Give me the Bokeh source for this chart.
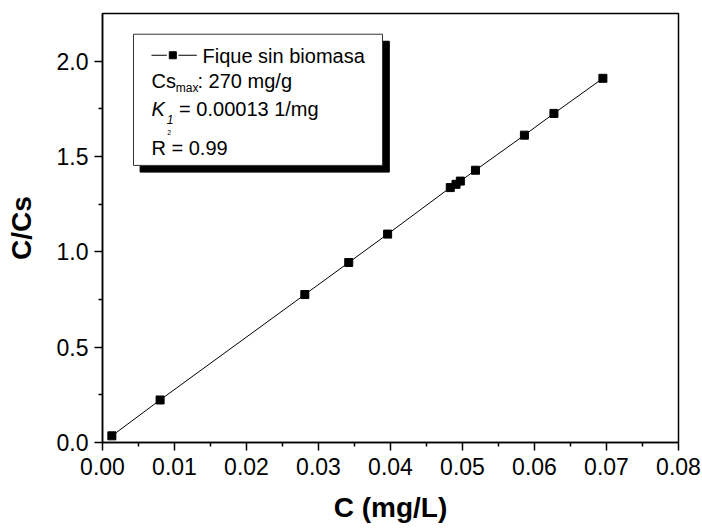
from bokeh.plotting import figure
from bokeh.models import Range1d, LinearAxis, FixedTicker, NumeralTickFormatter
from bokeh.core.properties import value
from bokeh.embed import file_html
from bokeh.resources import INLINE

# ---- data ----
C = [0.0013, 0.0080, 0.0281, 0.0342, 0.0396, 0.0483, 0.0491, 0.0497, 0.0518, 0.0586, 0.0627, 0.0695]
C_Cs = [0.035, 0.223, 0.776, 0.944, 1.093, 1.337, 1.354, 1.371, 1.428, 1.612, 1.726, 1.910]

x_major = [0.00, 0.01, 0.02, 0.03, 0.04, 0.05, 0.06, 0.07, 0.08]
x_minor = [0.005, 0.015, 0.025, 0.035, 0.045, 0.055, 0.065, 0.075]
y_major = [0.0, 0.5, 1.0, 1.5, 2.0]
y_minor = [0.25, 0.75, 1.25, 1.75]

x_title = "C (mg/L)"
y_title = "C/Cs"
series_name = "Fique sin biomasa"
stat_cs = ["Cs", "max", ": 270 mg/g"]
stat_k = ["K", "1", "= 0.00013 1/mg"]
stat_r = ["R", "2", "= 0.99"]

X_MAX = 0.08
Y_MAX = 2.25

FONT = "Liberation Sans"

p = figure(width=702, height=529, output_backend="svg", toolbar_location=None,
           x_range=Range1d(0, X_MAX), y_range=Range1d(0, Y_MAX),
           x_axis_type=None, y_axis_type=None,
           min_border_left=102, min_border_right=24, min_border_top=13, min_border_bottom=87)
p.outline_line_color = "black"
p.outline_line_width = 1.5
p.background_fill_color = "white"
p.border_fill_color = "white"


def style_axis(ax):
    ax.axis_line_width = 1.5
    ax.axis_line_color = "black"
    ax.major_tick_line_width = 1.5
    ax.minor_tick_line_width = 1.5
    ax.major_tick_line_color = "black"
    ax.minor_tick_line_color = "black"
    ax.major_label_text_font = FONT
    ax.major_label_text_font_size = "23px"
    ax.major_label_text_color = "black"
    ax.axis_label_text_font = FONT
    ax.axis_label_text_font_size = "28px"
    ax.axis_label_text_font_style = "bold"
    ax.axis_label_text_color = "black"
    ax.major_tick_out = 8
    ax.major_tick_in = 0
    ax.minor_tick_out = 4
    ax.minor_tick_in = 0


xt = FixedTicker(ticks=x_major, minor_ticks=x_minor)
yt = FixedTicker(ticks=y_major, minor_ticks=y_minor)

xb = LinearAxis(ticker=xt, formatter=NumeralTickFormatter(format="0.00"), axis_label=x_title)
style_axis(xb)
xb.major_label_standoff = 7
xb.axis_label_standoff = 14
p.add_layout(xb, "below")

yl = LinearAxis(ticker=yt, formatter=NumeralTickFormatter(format="0.0"), axis_label=y_title)
style_axis(yl)
yl.major_label_standoff = 6
yl.axis_label_standoff = 17
p.add_layout(yl, "left")

# ---- data series ----
p.line(C, C_Cs, line_color="black", line_width=1)
p.scatter(C, C_Cs, marker="square", size=8, fill_color="black", line_color="black")

# ---- legend box (pixel layout converted to data units) ----
def dx(px):
    return (px - 101.7) / 576.0 * X_MAX


def dy(py):
    return (441.7 - py) / 428.4 * Y_MAX


TS = -6.0  # text baseline correction

p.quad(left=[dx(139.3)], right=[dx(388.5)], top=[dy(41.0)], bottom=[dy(171.7)],
       fill_color="black", line_color="black")
p.quad(left=[dx(132.7)], right=[dx(381.7)], top=[dy(34.0)], bottom=[dy(165.0)],
       fill_color="white", line_color="#333333", line_width=1)

p.segment(x0=[dx(150.7), dx(177.7)], y0=[dy(55), dy(55)],
          x1=[dx(166.0), dx(196.0)], y1=[dy(55), dy(55)], line_color="black", line_width=1)
p.scatter([dx(172.0)], [dy(55)], marker="square", size=7, fill_color="black", line_color="black")

# main legend texts
p.text(x=[dx(201.7), dx(150.7), dx(196.7), dx(178.3), dx(150.7), dx(170.7)],
       y=[dy(61.7 + TS), dy(86.7 + TS), dy(86.7 + TS), dy(115.0 + TS), dy(153.3 + TS), dy(153.3 + TS)],
       text=[series_name, stat_cs[0], stat_cs[2], stat_k[2], stat_r[0], stat_r[2]],
       text_font=value(FONT), text_font_size="20px", text_color="black",
       text_baseline="alphabetic", text_align="left")
# italic K
p.text(x=[dx(150.7)], y=[dy(115.0 + TS)], text=[stat_k[0]],
       text_font=value(FONT), text_font_size="20px", text_font_style="italic",
       text_color="black", text_baseline="alphabetic", text_align="left")
# subscripts
p.text(x=[dx(175.0)], y=[dy(93.3 + TS)], text=[stat_cs[1]],
       text_font=value(FONT), text_font_size="12px", text_color="black",
       text_baseline="alphabetic", text_align="left")
p.text(x=[dx(166.0)], y=[dy(125.0 + TS)], text=[stat_k[1]],
       text_font=value(FONT), text_font_size="12px", text_font_style="italic",
       text_color="black", text_baseline="alphabetic", text_align="left")
# superscript
p.text(x=[dx(166.5)], y=[dy(138.0 + TS)], text=[stat_r[1]],
       text_font=value(FONT), text_font_size="7px", text_color="black",
       text_baseline="alphabetic", text_align="left")

open("out.html", "w").write(file_html(p, INLINE))
